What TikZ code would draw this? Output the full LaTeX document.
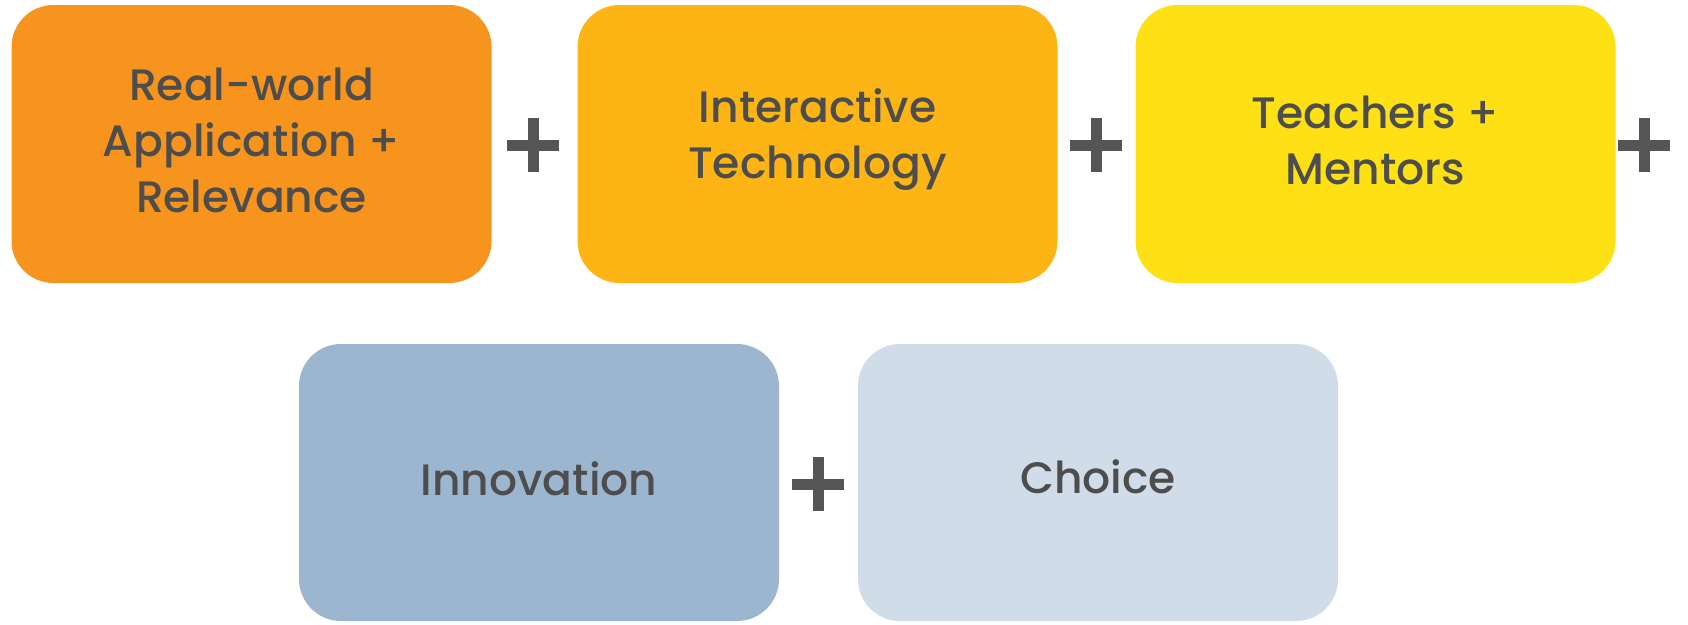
\documentclass[tikz,border=0pt]{standalone}
\usepackage{fontspec}
\setmainfont{Poppins}[UprightFont=* Medium]
\usepackage{tikz}

\definecolor{txtgray}{HTML}{4D4D4D}
\definecolor{plusgray}{HTML}{555555}
\definecolor{orangeA}{HTML}{F7941E}
\definecolor{orangeB}{HTML}{FDB515}
\definecolor{yellowC}{HTML}{FEE115}
\definecolor{blueD}{HTML}{9CB6CF}
\definecolor{blueE}{HTML}{D0DCE7}

\begin{document}
\begin{tikzpicture}[x=1pt, y=-1pt,
    card/.style={rounded corners=42pt, minimum width=480pt, minimum height=278pt,
        align=center, text=txtgray, font=\fontsize{44}{56}\selectfont, inner sep=0pt},
    plus/.style={line width=11pt, plusgray}]
    \useasboundingbox[fill=white] (0,0) rectangle (1688,624);
    \node[card, fill=orangeA] (realworld) at (251.5,144) {};
    \node[card, fill=orangeB] (interactive) at (817.5,144) {};
    \node[card, fill=yellowC] (teachers) at (1375.5,144) {};
    \node[card, fill=blueD, minimum height=277pt] (innovation) at (539,482.5) {};
    \node[card, fill=blueE, minimum height=277pt] (choice) at (1098,482.5) {};
    % labels, a little above centre
    \node[card, minimum height=0pt] at ([yshift=4pt]realworld.center) {Real-world\\Application +\\Relevance};
    \node[card, minimum height=0pt] at ([yshift=4pt]interactive.center) {Interactive\\Technology};
    \node[card, minimum height=0pt] at ([yshift=4pt]teachers.center) {Teachers +\\Mentors};
    \node[card, minimum height=0pt] at ([yshift=4pt]innovation.center) {Innovation};
    \node[card, minimum height=0pt] at ([yshift=6pt]choice.center) {Choice};
    % plus signs
    \foreach \px/\py in {533/145, 1096/145, 1644/145, 818/484} {
        \draw[plus] (\px-26,\py) -- (\px+26,\py);
        \draw[plus] (\px,\py-27) -- (\px,\py+27);
    }
\end{tikzpicture}
\end{document}
